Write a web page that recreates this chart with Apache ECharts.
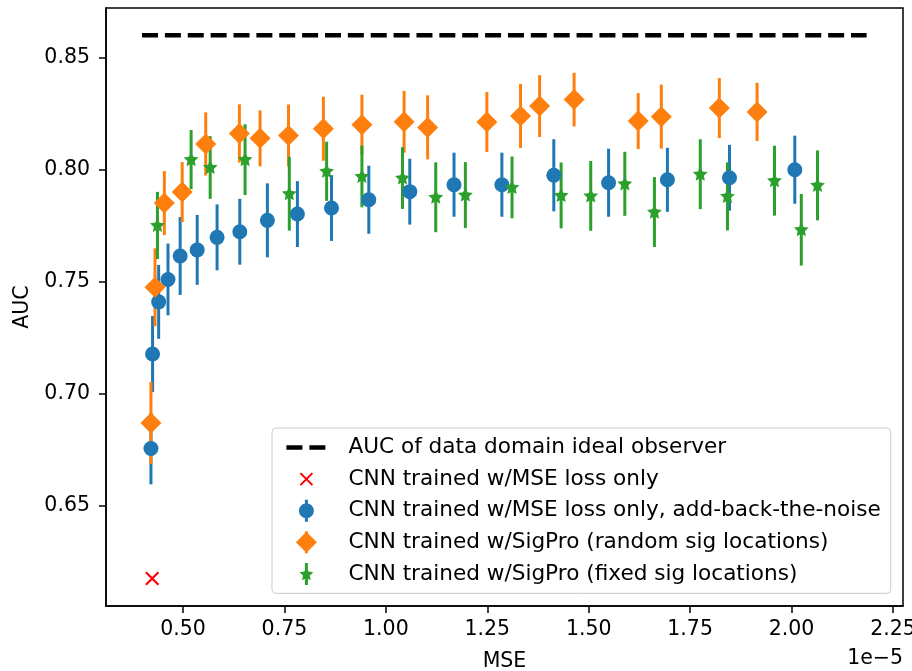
<!DOCTYPE html>
<html>
<head>
<meta charset="utf-8">
<title>AUC vs MSE</title>
<script src="https://cdn.jsdelivr.net/npm/echarts@6/dist/echarts.min.js"></script>
<style>
html, body { margin: 0; padding: 0; background: #fff; }
#chart { width: 912px; height: 671px; }
</style>
</head>
<body>
<div id="chart"></div>
<script>
// MSE is in units of 1e-5
var xTicks = [0.5, 0.75, 1.0, 1.25, 1.5, 1.75, 2.0, 2.25];
var yTicks = [0.65, 0.70, 0.75, 0.80, 0.85];

var idealX = [0.399, 2.185];
var idealAUC = 0.86;

var mseOnlyX = [0.424];
var mseOnlyY = [0.6175];

// CNN w/MSE loss only, add-back-the-noise
var noiseX = [0.421, 0.425, 0.440, 0.463, 0.493, 0.535, 0.584, 0.640, 0.708, 0.782,
  0.866, 0.958, 1.059, 1.168, 1.286, 1.414, 1.549, 1.694, 1.847, 2.008];
var noiseY = [0.6755, 0.7177, 0.7410, 0.7510, 0.7615, 0.7642, 0.7698, 0.7723, 0.7774, 0.7802,
  0.7829, 0.7866, 0.7902, 0.7933, 0.7933, 0.7975, 0.7942, 0.7955, 0.7964, 0.8000];
var noiseErr = [0.016, 0.017, 0.0165, 0.016, 0.0174, 0.0156, 0.0147, 0.0147, 0.0165, 0.0147,
  0.0147, 0.0152, 0.0147, 0.0143, 0.0143, 0.0161, 0.0152, 0.0143, 0.0147, 0.0152];

// CNN w/SigPro, random signal locations
var randX = [0.421, 0.431, 0.454, 0.498, 0.556, 0.639, 0.690, 0.760, 0.846, 0.941,
  1.045, 1.103, 1.249, 1.332, 1.379, 1.464, 1.622, 1.679, 1.822, 1.915];
var randY = [0.6869, 0.7475, 0.7851, 0.7900, 0.8115, 0.8162, 0.8140, 0.8153, 0.8183, 0.8201,
  0.8214, 0.8189, 0.8213, 0.8240, 0.8284, 0.8313, 0.8217, 0.8237, 0.8275, 0.8258];
var randErr = [0.0183, 0.0174, 0.0143, 0.0134, 0.0141, 0.013, 0.0125, 0.0138, 0.0143, 0.0134,
  0.0138, 0.0143, 0.0134, 0.0143, 0.0138, 0.012, 0.0125, 0.0143, 0.0134, 0.013];

// CNN w/SigPro, fixed signal locations
var fixedX = [0.437, 0.520, 0.567, 0.653, 0.762, 0.854, 0.941, 1.041, 1.123, 1.196,
  1.311, 1.432, 1.505, 1.589, 1.662, 1.775, 1.842, 1.958, 2.024, 2.064];
var fixedY = [0.7751, 0.8045, 0.8010, 0.8045, 0.7893, 0.7993, 0.7970, 0.7963, 0.7877, 0.7887,
  0.7921, 0.7885, 0.7883, 0.7937, 0.7811, 0.7980, 0.7881, 0.7951, 0.7732, 0.7930];
var fixedErr = [0.015, 0.0132, 0.014, 0.0158, 0.0165, 0.0132, 0.0138, 0.0138, 0.0156, 0.0147,
  0.0138, 0.0147, 0.0156, 0.0143, 0.0156, 0.0156, 0.0152, 0.0156, 0.016, 0.0156];

var names = [
  'AUC of data domain ideal observer',
  'CNN trained w/MSE loss only',
  'CNN trained w/MSE loss only, add-back-the-noise',
  'CNN trained w/SigPro (random sig locations)',
  'CNN trained w/SigPro (fixed sig locations)'
];

var BLUE = '#1f77b4', ORANGE = '#ff7f0e', GREEN = '#2ca02c', RED = '#ff0000';
var FONT = 'DejaVu Sans';

// tiny corner boxes so path symbols keep a fixed frame
function frame(w, h) {
  return 'M0,0 h0.01 v0.01 h-0.01 Z M' + (w - 0.01) + ',' + (h - 0.01) + ' h0.01 v0.01 h-0.01 Z ';
}
function starPath(cx, cy, R, r) {
  var d = '';
  for (var k = 0; k < 10; k++) {
    var rad = k % 2 === 0 ? R : r;
    var a = -Math.PI / 2 + k * Math.PI / 5;
    d += (k === 0 ? 'M' : 'L') + (cx + rad * Math.cos(a)).toFixed(2) + ',' + (cy + rad * Math.sin(a)).toFixed(2) + ' ';
  }
  return d + 'Z ';
}
function crossPath(cx, cy, s, t) {
  var h = s / 2;
  var x0 = cx - h, y0 = cy - h, x1 = cx + h, y1 = cy + h;
  return 'M' + x0 + ',' + (y0 + t) + ' L' + (x0 + t) + ',' + y0 + ' L' + x1 + ',' + (y1 - t) + ' L' + (x1 - t) + ',' + y1 + ' Z ' +
    'M' + (x1 - t) + ',' + y0 + ' L' + x1 + ',' + (y0 + t) + ' L' + (x0 + t) + ',' + y1 + ' L' + x0 + ',' + (y1 - t) + ' Z ';
}

var starSymbol = 'path://' + frame(15, 15) + starPath(7.5, 7.8, 7.8, 3.8);
var crossSymbol = 'path://' + frame(14, 14) + crossPath(7, 7, 14, 1.5);

var bar = 'M18.5,0 h3 v22 h-3 Z ';
var legendIcons = [
  'path://' + frame(40, 22) + 'M0,8.75 h16 v4.5 h-16 Z M23,8.75 h16 v4.5 h-16 Z',
  'path://' + frame(40, 22) + crossPath(20, 11, 13.4, 1.4),
  'path://' + frame(40, 22) + bar + 'M12.5,11 A7.5,7.5 0 1,1 27.5,11 A7.5,7.5 0 1,1 12.5,11 Z',
  'path://' + frame(40, 22) + bar + 'M20,0.5 L30.5,11 L20,21.5 L9.5,11 Z',
  'path://' + frame(40, 22) + bar + starPath(20, 11.5, 7.3, 3.6)
];
var legendColors = ['#000', RED, BLUE, ORANGE, GREEN];

function zip(xs, ys) {
  return xs.map(function (x, i) { return [x, ys[i]]; });
}

function errorBars(name, color, xs, ys, errs) {
  return {
    name: name,
    type: 'custom',
    data: xs.map(function (x, i) { return [x, ys[i] - errs[i], ys[i] + errs[i]]; }),
    encode: { x: 0, y: [1, 2] },
    renderItem: function (params, api) {
      var lo = api.coord([api.value(0), api.value(1)]);
      var hi = api.coord([api.value(0), api.value(2)]);
      return {
        type: 'line',
        shape: { x1: lo[0], y1: lo[1], x2: hi[0], y2: hi[1] },
        style: { stroke: color, lineWidth: 3 }
      };
    }
  };
}

function markers(name, color, xs, ys, symbol, size) {
  return {
    name: name,
    type: 'scatter',
    data: zip(xs, ys),
    symbol: symbol,
    symbolSize: size,
    itemStyle: { color: color, opacity: 1, borderWidth: 0 }
  };
}

var chart = echarts.init(document.getElementById('chart'));

var option = {
  animation: false,
  backgroundColor: '#fff',
  textStyle: { fontFamily: FONT },
  grid: {
    left: 106, top: 8, width: 797, height: 598,
    outerBoundsMode: 'none',
    containLabel: false,
    show: true, borderColor: '#000', borderWidth: 1.5, backgroundColor: 'transparent'
  },
  xAxis: {
    type: 'value',
    min: 0.3102, max: 2.2747,
    name: 'MSE', nameLocation: 'middle', nameGap: 45,
    nameTextStyle: { fontSize: 20.5, color: '#000', fontFamily: FONT },
    axisLine: { show: true, lineStyle: { color: '#000', width: 1.5 } },
    axisTick: { show: true, length: 7, lineStyle: { color: '#000', width: 1.5 }, customValues: xTicks },
    axisLabel: {
      customValues: xTicks, margin: 13, fontSize: 20.5, color: '#000', fontFamily: FONT,
      formatter: function (v) { return v.toFixed(2); }
    },
    splitLine: { show: false }
  },
  yAxis: {
    type: 'value',
    min: 0.6052, max: 0.8722,
    name: 'AUC', nameLocation: 'middle', nameGap: 73,
    nameTextStyle: { fontSize: 20.5, color: '#000', fontFamily: FONT },
    axisLine: { show: true, lineStyle: { color: '#000', width: 1.5 } },
    axisTick: { show: true, length: 7, lineStyle: { color: '#000', width: 1.5 }, customValues: yTicks },
    axisLabel: {
      customValues: yTicks, margin: 16, fontSize: 20.5, color: '#000', fontFamily: FONT,
      formatter: function (v) { return v.toFixed(2); }
    },
    splitLine: { show: false }
  },
  legend: {
    orient: 'vertical',
    left: 272, top: 428,
    padding: [8.5, 10, 8.5, 14.4],
    itemWidth: 40, itemHeight: 22, itemGap: 9.6,
    selectedMode: false,
    backgroundColor: 'rgba(255,255,255,0.8)',
    borderColor: '#cccccc', borderWidth: 1, borderRadius: 4,
    textStyle: { fontSize: 21.6, color: '#000', fontFamily: FONT, lineHeight: 22, padding: [0, 0, 0, 17] },
    data: names.map(function (n, i) {
      return { name: n, icon: legendIcons[i], itemStyle: { color: legendColors[i], borderWidth: 0 } };
    })
  },
  graphic: [{
    type: 'text', right: 9, top: 648,
    style: { text: '1e\u22125', font: '20.5px "DejaVu Sans"', fill: '#000', textAlign: 'right' }
  }],
  series: [
    {
      name: names[0],
      type: 'line',
      data: idealX.map(function (x) { return [x, idealAUC]; }),
      symbol: 'none',
      lineStyle: { color: '#000', width: 4.5, type: [16, 6.87] },
      itemStyle: { color: '#000' }
    },
    markers(names[1], RED, mseOnlyX, mseOnlyY, crossSymbol, 14),
    errorBars(names[2], BLUE, noiseX, noiseY, noiseErr),
    markers(names[2], BLUE, noiseX, noiseY, 'circle', 15),
    errorBars(names[3], ORANGE, randX, randY, randErr),
    markers(names[3], ORANGE, randX, randY, 'diamond', 21),
    errorBars(names[4], GREEN, fixedX, fixedY, fixedErr),
    markers(names[4], GREEN, fixedX, fixedY, starSymbol, 15)
  ]
};

chart.setOption(option);
</script>
</body>
</html>
